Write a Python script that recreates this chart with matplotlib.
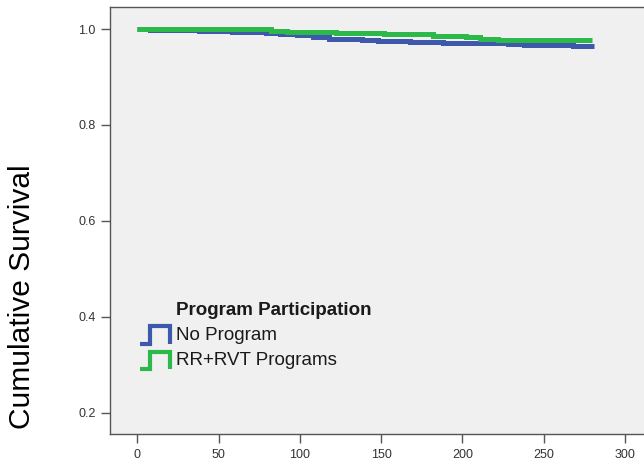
import matplotlib
matplotlib.use("Agg")
import matplotlib.pyplot as plt
from matplotlib.lines import Line2D
from matplotlib.legend_handler import HandlerBase

# dados (tempo, sobrevivência acumulada)
no_prog_t = [0, 8, 38, 58, 79, 88, 98, 108, 118, 138, 148, 168, 188, 228, 238, 268, 281]
no_prog_s = [1.0, 0.998, 0.995, 0.993, 0.991, 0.989, 0.987, 0.984, 0.980, 0.978,
             0.976, 0.9735, 0.9715, 0.969, 0.967, 0.964, 0.964]

rr_t = [0, 71, 82, 92, 122, 129, 152, 182, 202, 211, 222, 280]
rr_s = [1.0, 0.999, 0.996, 0.994, 0.992, 0.991, 0.989, 0.986, 0.983, 0.980, 0.978, 0.978]

x_ticks = [0, 50, 100, 150, 200, 250, 300]
y_ticks = [0.2, 0.4, 0.6, 0.8, 1.0]

blue = '#3e58ac'
green = '#2db84a'

plt.rcParams['font.family'] = ['Liberation Sans', 'DejaVu Sans']


# ícone em degrau para a legenda
class StepHandler(HandlerBase):
    def create_artists(self, legend, orig_handle, xdescent, ydescent, width, height, fontsize, trans):
        x0 = -xdescent
        y0 = -ydescent - 1
        xs = [x0, x0 + width * 0.34, x0 + width * 0.34, x0 + width, x0 + width]
        ys = [y0, y0, y0 + height, y0 + height, y0]
        ln = Line2D(xs, ys, color=orig_handle.get_color(), lw=3.0,
                    solid_joinstyle='miter', solid_capstyle='butt', transform=trans)
        return [ln]


fig = plt.figure(figsize=(6.44, 4.65), dpi=100)
ax = fig.add_axes([110 / 644, 31 / 465, 534 / 644, 427 / 465])
ax.set_facecolor('#f0f0f0')

l1, = ax.plot(no_prog_t, no_prog_s, drawstyle='steps-post', color=blue, lw=3.6,
              solid_capstyle='butt', solid_joinstyle='miter')
l2, = ax.plot(rr_t, rr_s, drawstyle='steps-post', color=green, lw=3.6,
              solid_capstyle='butt', solid_joinstyle='miter')

ax.set_xlim(-16.8, 311.7)
ax.set_ylim(0.1556, 1.0459)
ax.set_xticks(x_ticks)
ax.set_yticks(y_ticks)
ax.set_yticklabels(['%.1f' % v for v in y_ticks])

for s in ['left', 'bottom', 'top']:
    ax.spines[s].set_color('#555555')
    ax.spines[s].set_linewidth(1.0)
ax.spines['right'].set_visible(False)
ax.tick_params(axis='both', direction='out', length=6.5, width=1.0, color='#555555',
               labelsize=9, labelcolor='#333333', pad=4)

fig.text(22 / 644, 1 - 296.5 / 465, 'Cumulative Survival', rotation=90,
         ha='center', va='center', fontsize=21.5, color='black')

# legenda: o título é uma linha sem ícone, em negrito
titulo = Line2D([], [], color='none')
leg = ax.legend([titulo, l1, l2], ['Program Participation', 'No Program', 'RR+RVT Programs'],
                handler_map={l1: StepHandler(), l2: StepHandler()},
                loc='upper left', bbox_to_anchor=(30 / 534, (434 - 300) / 427),
                frameon=False, fontsize=13.5, borderpad=0, borderaxespad=0,
                handlelength=1.6, handleheight=1.05, handletextpad=0.3, labelspacing=0.32)
leg.get_texts()[0].set_fontweight('bold')
for t in leg.get_texts():
    t.set_color('#1a1a1a')

fig.savefig('out.png', dpi=100, facecolor='white')
